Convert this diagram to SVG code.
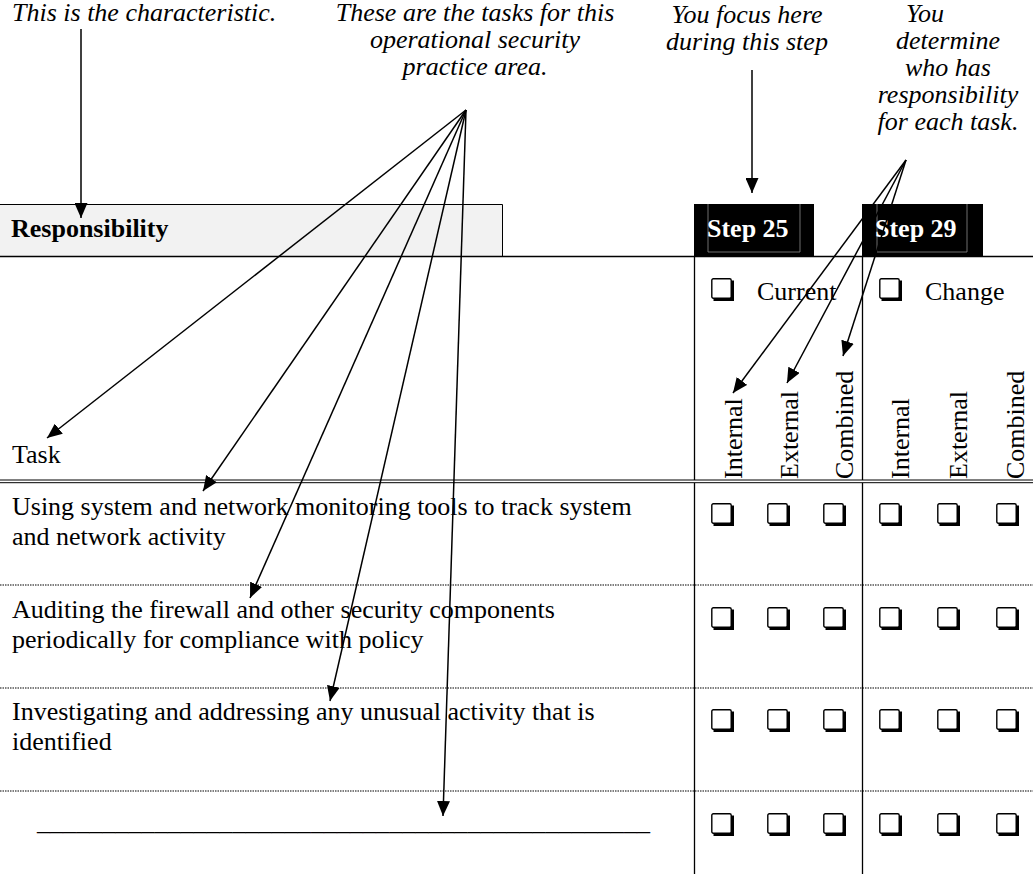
<svg xmlns="http://www.w3.org/2000/svg" xmlns:xlink="http://www.w3.org/1999/xlink" width="1033" height="874" viewBox="0 0 1033 874">
<style>
text { font-family: "Liberation Serif", "Times New Roman", serif; font-size: 26px; fill: #000; }
.it { font-style: italic; text-anchor: middle; }
.bold { font-weight: bold; }
.white { fill: #fff; }
.rule { stroke: #000; stroke-width: 1.3; fill: none; }
.thin { stroke: #000; stroke-width: 1; fill: none; }
.dot { stroke: #000; stroke-width: 1.2; stroke-dasharray: 1.5 1; fill: none; }
.conn { stroke: #000; stroke-width: 1.5; fill: none; marker-end: url(#ah); }
</style>
<defs>
<marker id="ah" markerWidth="15" markerHeight="13" refX="15" refY="6.5" orient="auto" markerUnits="userSpaceOnUse">
<path d="M0,0 L15,6.5 L0,13 Z" fill="#000"/>
</marker>
<g id="cb">
<rect x="0.8" y="0.8" width="19.4" height="19.4" rx="1.5" fill="#fff" stroke="#000" stroke-width="1.4"/>
<path d="M21.5,2.5 V21.5 H2.5" fill="none" stroke="#000" stroke-width="3"/>
</g>
</defs>
<rect width="1033" height="874" fill="#fff"/>

<g id="label-characteristic">
<text x="12" y="21" style="font-style:italic">This is the characteristic.</text>
</g>
<g id="label-tasks">
<text class="it" x="475" y="21">These are the tasks for this</text>
<text class="it" x="475" y="48">operational security</text>
<text class="it" x="475" y="75">practice area.</text>
</g>
<g id="label-focus">
<text class="it" x="747" y="23">You focus here</text>
<text class="it" x="747" y="50">during this step</text>
</g>
<g id="label-determine">
<text class="it" x="925" y="22">You</text>
<text class="it" x="948" y="49">determine</text>
<text class="it" x="948" y="76">who has</text>
<text class="it" x="948" y="103">responsibility</text>
<text class="it" x="948" y="130">for each task.</text>
</g>

<g id="header-responsibility">
<rect x="0" y="204" width="502" height="52" fill="#f2f2f2"/>
<path class="thin" d="M0,204.5 H502.5 V256"/>
<text class="bold" x="11" y="237">Responsibility</text>
</g>
<g id="header-step25">
<rect x="694" y="204" width="120" height="52" fill="#000"/>
<path d="M708,204 V252 H800 V204" fill="none" stroke="#8a8a8a" stroke-width="0.8"/>
<text class="bold white" x="707" y="237">Step 25</text>
</g>
<g id="header-step29">
<rect x="862" y="204" width="121" height="52" fill="#000"/>
<path d="M877,204 V252 H967 V204" fill="none" stroke="#8a8a8a" stroke-width="0.8"/>
<text class="bold white" x="875" y="237">Step 29</text>
</g>

<g id="table-grid">
<line class="rule" x1="0" y1="256.5" x2="1033" y2="256.5"/>
<line class="thin" x1="0" y1="480" x2="1033" y2="480"/>
<line class="thin" x1="0" y1="482.7" x2="1033" y2="482.7"/>
<line class="dot" x1="0" y1="585" x2="1033" y2="585"/>
<line class="dot" x1="0" y1="688" x2="1033" y2="688"/>
<line class="dot" x1="0" y1="791" x2="1033" y2="791"/>
<line class="rule" x1="694.5" y1="256" x2="694.5" y2="480"/>
<line class="rule" x1="694.5" y1="483" x2="694.5" y2="874"/>
<line class="rule" x1="862.5" y1="256" x2="862.5" y2="480"/>
<line class="rule" x1="862.5" y1="483" x2="862.5" y2="874"/>
</g>

<g id="header-task">
<text x="12" y="463">Task</text>
</g>
<g id="header-current">
<use xlink:href="#cb" x="711" y="278"/>
<text x="757" y="300">Current</text>
</g>
<g id="header-change">
<use xlink:href="#cb" x="879" y="278"/>
<text x="925" y="300">Change</text>
</g>
<g id="column-labels">
<text transform="translate(742,479) rotate(-90)">Internal</text>
<text transform="translate(798,479) rotate(-90)">External</text>
<text transform="translate(853,479) rotate(-90)">Combined</text>
<text transform="translate(909,479) rotate(-90)">Internal</text>
<text transform="translate(967,479) rotate(-90)">External</text>
<text transform="translate(1024,479) rotate(-90)">Combined</text>
</g>

<g id="row1">
<text x="12" y="515">Using system and network monitoring tools to track system</text>
<text x="12" y="545">and network activity</text>
<use xlink:href="#cb" x="711" y="503"/><use xlink:href="#cb" x="767" y="503"/><use xlink:href="#cb" x="823" y="503"/>
<use xlink:href="#cb" x="879" y="503"/><use xlink:href="#cb" x="937" y="503"/><use xlink:href="#cb" x="996" y="503"/>
</g>
<g id="row2">
<text x="12" y="618">Auditing the firewall and other security components</text>
<text x="12" y="648">periodically for compliance with policy</text>
<use xlink:href="#cb" x="711" y="607"/><use xlink:href="#cb" x="767" y="607"/><use xlink:href="#cb" x="823" y="607"/>
<use xlink:href="#cb" x="879" y="607"/><use xlink:href="#cb" x="937" y="607"/><use xlink:href="#cb" x="996" y="607"/>
</g>
<g id="row3">
<text x="12" y="720">Investigating and addressing any unusual activity that is</text>
<text x="12" y="750">identified</text>
<use xlink:href="#cb" x="711" y="709"/><use xlink:href="#cb" x="767" y="709"/><use xlink:href="#cb" x="823" y="709"/>
<use xlink:href="#cb" x="879" y="709"/><use xlink:href="#cb" x="937" y="709"/><use xlink:href="#cb" x="996" y="709"/>
</g>
<g id="row4">
<text x="37" y="830" textLength="613" lengthAdjust="spacingAndGlyphs">_______________________________________________</text>
<use xlink:href="#cb" x="711" y="813"/><use xlink:href="#cb" x="767" y="813"/><use xlink:href="#cb" x="823" y="813"/>
<use xlink:href="#cb" x="879" y="813"/><use xlink:href="#cb" x="937" y="813"/><use xlink:href="#cb" x="996" y="813"/>
</g>

<g id="connectors">
<line class="conn" x1="81" y1="29" x2="81" y2="218"/>
<line class="conn" x1="752" y1="70" x2="752" y2="193"/>
<line class="conn" x1="466" y1="110" x2="47" y2="438"/>
<line class="conn" x1="466" y1="110" x2="203" y2="491"/>
<line class="conn" x1="466" y1="110" x2="250" y2="598"/>
<line class="conn" x1="466" y1="110" x2="330" y2="701"/>
<line class="conn" x1="466" y1="110" x2="443" y2="816"/>
<line class="conn" x1="906" y1="160" x2="733" y2="393"/>
<line class="conn" x1="906" y1="160" x2="787" y2="383"/>
<line class="conn" x1="906" y1="160" x2="843" y2="356"/>
</g>
</svg>
